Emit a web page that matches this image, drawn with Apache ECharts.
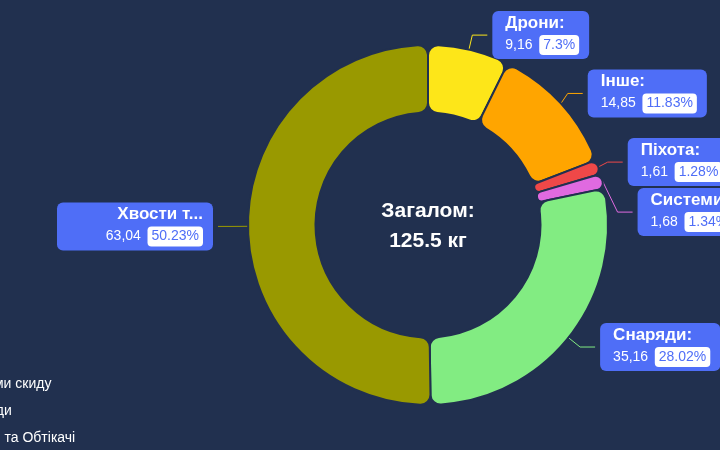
<!DOCTYPE html>
<html>
<head>
<meta charset="utf-8">
<script src="https://cdn.jsdelivr.net/npm/echarts@6/dist/echarts.min.js"></script>
<style>html,body{margin:0;padding:0;background:#21304f;}#c{width:720px;height:450px;}</style>
</head>
<body>
<div id="c"></div>
<script>
const categories = ['Дрони', 'Інше', 'Піхота', 'Системи скиду', 'Снаряди', 'Хвости та Обтікачі'];
const values = [9.16, 14.85, 1.61, 1.68, 35.16, 63.04];
const colors = ['#fde619', '#ffa500', '#ef4848', '#e06ae0', '#82ec82', '#999900'];
const totalLabel = 'Загалом:';
const unit = 'кг';

const total = values.reduce((a, b) => a + b, 0);
const chart = echarts.init(document.getElementById('c'));
const labelBg = '#4f6ef7';
chart.setOption({
  backgroundColor: '#21304f',
  color: colors,
  legend: {
    orient: 'vertical',
    left: -81,
    bottom: -1,
    itemGap: 11,
    textStyle: { color: '#ffffff', fontSize: 14 },
    data: categories
  },
  graphic: [{
    type: 'text',
    x: 428,
    y: 226,
    style: {
      text: totalLabel + '\n' + (Math.round(total * 10) / 10) + ' ' + unit,
      fill: '#ffffff',
      font: 'bold 21px sans-serif',
      lineHeight: 30,
      align: 'center',
      verticalAlign: 'middle'
    }
  }],
  series: [{
    type: 'pie',
    left: 47,
    right: -89,
    top: 0,
    bottom: 0,
    center: ['50%', '50%'],
    radius: ['50%', '80%'],
    startAngle: 90,
    avoidLabelOverlap: true,
    itemStyle: { borderRadius: 10, borderColor: '#21304f', borderWidth: 2 },
    label: {
      show: true,
      backgroundColor: labelBg,
      borderRadius: 6,
      padding: [2, 10, 2, 13],
      formatter: function (p) {
        return '{name|' + p.name + ':}\n{value|' + String(p.value).replace('.', ',') + '}  {per|' + p.percent + '%}';
      },
      rich: {
        name: { color: '#ffffff', fontSize: 17, fontWeight: 'bold', lineHeight: 20 },
        value: { color: '#ffffff', fontSize: 14, lineHeight: 24 },
        per: { color: labelBg, backgroundColor: '#ffffff', borderRadius: 4, padding: [3, 4], fontSize: 14, lineHeight: 14 }
      }
    },
    labelLine: { length: 15, length2: 15 },
    data: categories.map((n, i) => ({ name: n, value: values[i] }))
  }]
});
</script>
</body>
</html>
